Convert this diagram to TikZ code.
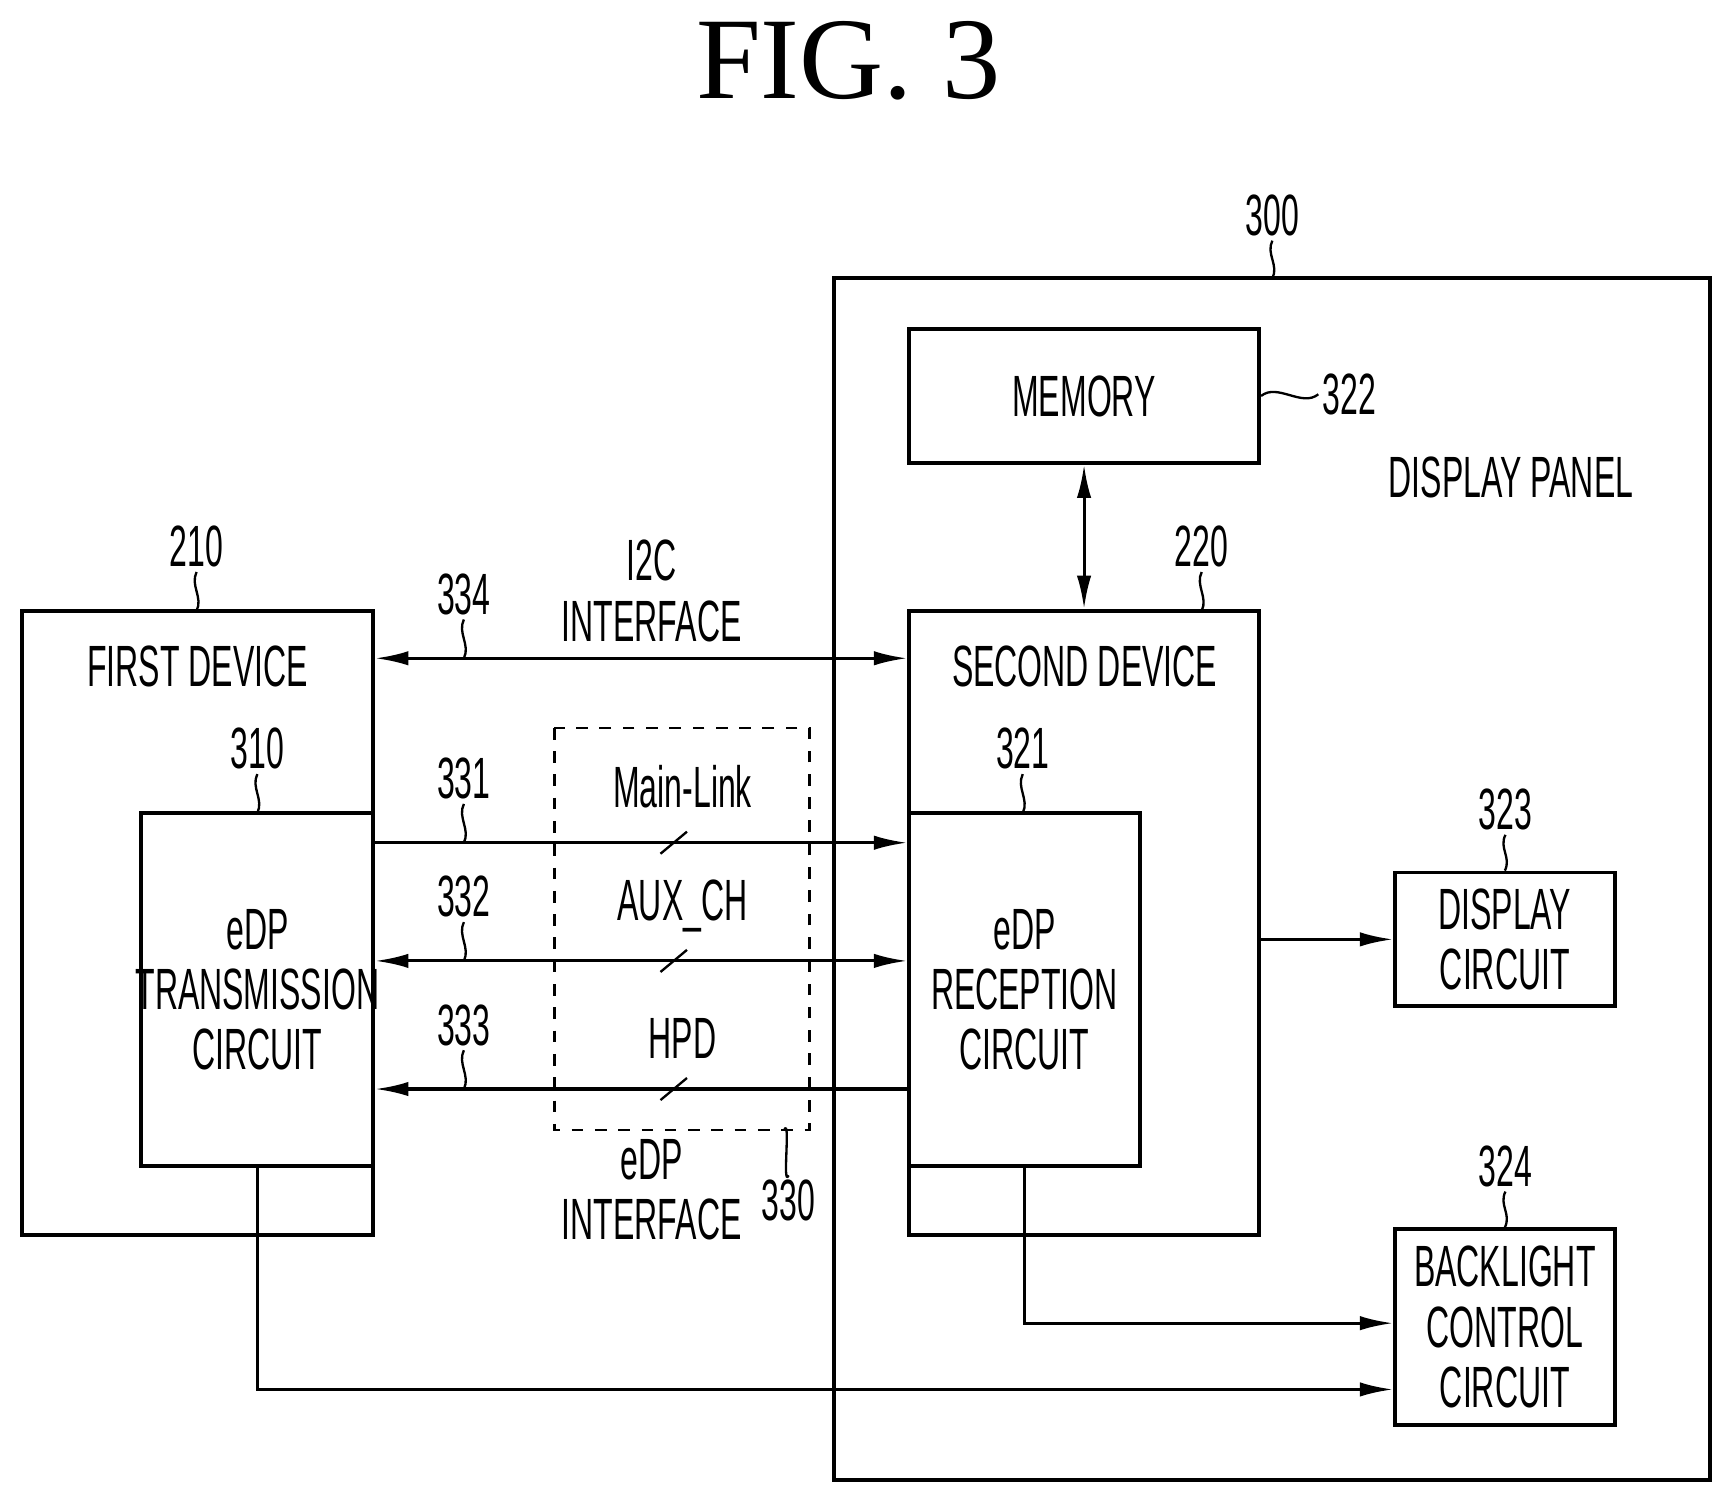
\documentclass[tikz,border=0pt]{standalone}
\usepackage{fontspec}
\setmainfont{Liberation Sans}[FakeStretch=0.55]
\newfontfamily\figfont{Liberation Serif}
\usetikzlibrary{arrows.meta,calc}
\tikzset{
    blk/.style={draw, line width=1pt, inner sep=0pt},
    lbl/.style={font=\fontsize{15}{15.5}\selectfont, align=center},
    num/.style={font=\fontsize{15}{18}\selectfont, inner sep=1pt},
    arr/.style={line width=0.8pt, -{Latex[length=3mm,width=1.3mm]}},
    darr/.style={line width=0.8pt, {Latex[length=3mm,width=1.3mm]}-{Latex[length=3mm,width=1.3mm]}},
}
\newcommand{\leadline}[2]{
    \draw[line width=0.6pt] (#1) .. controls +(-6,12) and +(6,-12) .. (#2);
}
\newcommand{\slashmark}[1]{
    \draw[line width=0.6pt] ($(#1)+(-12,10)$) -- ($(#1)+(12,-10)$);
}
\begin{document}
\begin{tikzpicture}[x=0.1mm,y=-0.1mm]
    \useasboundingbox (0,0) rectangle (1560,1353);

    \node[font=\figfont\fontsize{30}{36}\selectfont] (title) at (768,55) {FIG. 3};

    % display panel
    \draw[blk] (755,252) rectangle (1548,1340);
    \coordinate (panel) at (1152,252);
    \node[num] (n300) at (1152,195) {300};
    \leadline{n300.south}{panel}
    \node[lbl] (dpanel) at (1368,432) {DISPLAY PANEL};

    % blocks
    \node[blk, minimum width=31.7mm, minimum height=12.1mm] (mem) at (981.5,358.5) {};
    \node[lbl] at (mem) {MEMORY};
    \node[blk, minimum width=31.7mm, minimum height=56.5mm] (second) at (981.5,835.5) {};
    \node[lbl] at (982,603) {SECOND DEVICE};
    \node[blk, minimum width=20.9mm, minimum height=32mm] (recv) at (927.5,896) {};
    \node[lbl] at (recv) {eDP\\RECEPTION\\CIRCUIT};
    \node[blk, minimum width=31.8mm, minimum height=56.5mm] (first) at (179,835.5) {};
    \node[lbl] at (179,603) {FIRST DEVICE};
    \node[blk, minimum width=21mm, minimum height=32mm] (trans) at (233,896) {};
    \node[lbl] at (trans) {eDP\\TRANSMISSION\\CIRCUIT};
    \node[blk, minimum width=19.9mm, minimum height=12.1mm] (disp) at (1362.5,850.5) {};
    \node[lbl] at (disp) {DISPLAY\\CIRCUIT};
    \node[blk, minimum width=19.9mm, minimum height=17.7mm] (back) at (1362.5,1201.5) {};
    \node[lbl] at (back) {BACKLIGHT\\CONTROL\\CIRCUIT};
    \draw[line width=0.6pt, dashed] (502,659) rectangle (733,1023);

    % reference numbers
    \node[num] (n322) at (1222,357) {322};
    \draw[line width=0.6pt] (mem.east) .. controls +(15,-12) and +(-15,12) .. (n322.west);
    \node[num] (n220) at (1088,495) {220};
    \leadline{n220.south}{1088,553}
    \node[num] (n210) at (178,495) {210};
    \leadline{n210.south}{178,553}
    \node[num] (n310) at (233,678) {310};
    \leadline{n310.south}{233,736}
    \node[num] (n321) at (926,678) {321};
    \leadline{n321.south}{926,736}
    \node[num] (n323) at (1363,733) {323};
    \leadline{n323.south}{disp.north}
    \node[num] (n324) at (1363,1056) {324};
    \leadline{n324.south}{back.north}
    \node[num] (n330) at (714,1087) {330};
    \leadline{n330.north}{710,1023}

    % links
    \coordinate (i2c) at (0,596);
    \coordinate (main) at (0,763);
    \coordinate (aux) at (0,870);
    \coordinate (hpd) at (0,986);
    \draw[darr] (first.east |- i2c) -- (second.west |- i2c);
    \draw[arr] (trans.east |- main) -- (recv.west |- main);
    \draw[darr] (trans.east |- aux) -- (recv.west |- aux);
    \draw[arr] (recv.west |- hpd) -- (trans.east |- hpd);
    \slashmark{610,763}
    \slashmark{610,870}
    \slashmark{610,986}
    \node[lbl] at (590,535) {I2C\\INTERFACE};
    \node[lbl] at (618,712) {Main-Link};
    \node[lbl] at (618,820) {AUX\_CH};
    \node[lbl] at (618,940) {HPD};
    \node[lbl] at (590,1077) {eDP\\INTERFACE};
    \node[num] (n334) at (420,538) {334};
    \leadline{n334.south}{420,596}
    \node[num] (n331) at (420,705) {331};
    \leadline{n331.south}{420,763}
    \node[num] (n332) at (420,812) {332};
    \leadline{n332.south}{420,870}
    \node[num] (n333) at (420,928) {333};
    \leadline{n333.south}{420,986}

    \draw[darr] (mem.south) -- (second.north);
    \draw[arr] (second.east |- disp) -- (disp.west);
    \draw[arr] (recv.south) |- (back.west |- 0,1198);
    \draw[arr] (trans.south) |- (back.west |- 0,1258);
\end{tikzpicture}
\end{document}
